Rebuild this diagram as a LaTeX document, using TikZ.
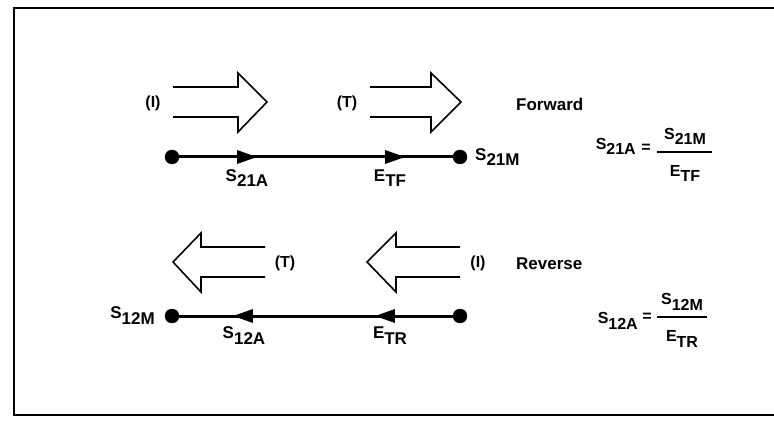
\documentclass[tikz,border=0pt]{standalone}
\usepackage{fontspec}
\setmainfont{Liberation Sans}
\usetikzlibrary{arrows.meta,decorations.markings}
\newcommand\subl[2]{\raisebox{5.5pt}{#1}#2}
\begin{document}
\begin{tikzpicture}[x=1pt,y=-1pt,
  frame/.style={line width=2pt},
  blockarrow/.style={line width=1.6pt, line join=miter},
  dot/.style={circle, fill=black, draw=black, inner sep=0pt, minimum size=14pt},
  sig/.style={line width=3pt},
  fwdmarks/.style={postaction={decorate}, decoration={markings,
      mark=at position 78pt with {\arrow{Triangle[length=20pt,width=13pt]}},
      mark=at position 226pt with {\arrow{Triangle[length=20pt,width=13pt]}}}},
  lbl/.style={font=\bfseries\fontsize{17}{20}\selectfont, inner sep=0pt},
  eq/.style={font=\bfseries\fontsize{16}{19}\selectfont, inner sep=0pt},
  paren/.style={font=\bfseries\fontsize{16}{19}\selectfont, inner sep=0pt},
  dirlbl/.style={font=\bfseries\fontsize{17}{20}\selectfont, inner sep=0pt, anchor=west},
  bar/.style={line width=1.8pt}
]
\useasboundingbox (0,0) rectangle (774,422);
\draw[frame] (774,8) -- (14,8) -- (14,415) -- (774,415);

% Forward block arrows
\draw[blockarrow] (173,87) -- (238,87) -- (238,73) -- (267,102) -- (238,132) -- (238,117) -- (173,117);
\draw[blockarrow] (370,87) -- (431,87) -- (431,73) -- (461,102) -- (431,132) -- (431,117) -- (370,117);
\node[paren] (iF) at (153,103) {(I)};
\node[paren] (tF) at (347,103) {(T)};
\node[dirlbl] (fwd) at (516,104) {Forward};

% Forward signal line
\node[dot] (a1) at (172,157) {};
\node[dot] (a2) at (460,157) {};
\draw[sig, fwdmarks] (a1) -- (a2);
\node[lbl, anchor=base west] (s21m) at (475,166) {\subl{S}{21M}};
\node[lbl, anchor=base] (s21a) at (247,187) {\subl{S}{21A}};
\node[lbl, anchor=base] (etf) at (390,187) {\subl{E}{TF}};

% Forward equation
\node[eq, anchor=base east] (q1l) at (636,155) {\subl{S}{21A}};
\node[eq] (q1e) at (646,148) {=};
\draw[bar] (657,152) -- (712,152);
\node[eq, anchor=base] (q1n) at (685,145) {\subl{S}{21M}};
\node[eq, anchor=base] (q1d) at (685,182) {\subl{E}{TF}};

% Reverse block arrows
\draw[blockarrow] (265,247) -- (201,247) -- (201,233) -- (173,262) -- (201,292) -- (201,277) -- (265,277);
\draw[blockarrow] (460,247) -- (396,247) -- (396,233) -- (367,262) -- (396,292) -- (396,277) -- (460,277);
\node[paren] (tR) at (285,263) {(T)};
\node[paren] (iR) at (478,263) {(I)};
\node[dirlbl] (rev) at (516,264) {Reverse};

% Reverse signal line
\node[dot] (b1) at (460,316) {};
\node[dot] (b2) at (172,316) {};
\draw[sig, postaction={decorate}, decoration={markings,
      mark=at position 78pt with {\arrow{Triangle[length=20pt,width=13pt]}},
      mark=at position 220pt with {\arrow{Triangle[length=20pt,width=13pt]}}}] (b1) -- (b2);
\node[lbl, anchor=base east] (s12m) at (155,324) {\subl{S}{12M}};
\node[lbl, anchor=base] (s12a) at (244,344) {\subl{S}{12A}};
\node[lbl, anchor=base] (etr) at (390,344) {\subl{E}{TR}};

% Reverse equation
\node[eq, anchor=base east] (q2l) at (638,329) {\subl{S}{12A}};
\node[eq] (q2e) at (647,317) {=};
\draw[bar] (657,317) -- (707,317);
\node[eq, anchor=base] (q2n) at (682,310) {\subl{S}{12M}};
\node[eq, anchor=base] (q2d) at (682,347) {\subl{E}{TR}};
\end{tikzpicture}
\end{document}
